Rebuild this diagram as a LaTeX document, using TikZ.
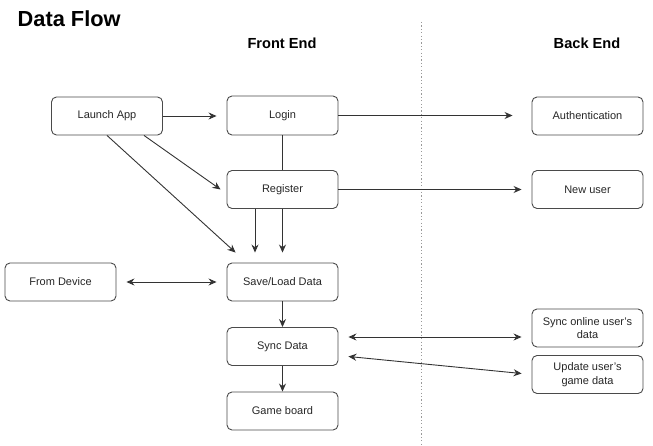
\documentclass[tikz,border=0pt]{standalone}
\usepackage{fontspec}
\setmainfont{Liberation Sans}
\usetikzlibrary{arrows.meta}
\definecolor{linec}{HTML}{333333}
\definecolor{boxc}{HTML}{4A4A4A}
\definecolor{textc}{HTML}{262626}
\tikzset{
  box/.style={draw=boxc, line width=0.9pt, rounded corners=5pt, minimum width=111pt, minimum height=38pt, inner sep=0pt, align=center, text=textc, font=\fontsize{11}{13.5}\selectfont},
  conn/.style={draw=linec, line width=0.9pt},
  arr/.style={conn, -{Stealth[length=8pt,width=7pt]}},
  darr/.style={conn, {Stealth[length=8pt,width=7pt]}-{Stealth[length=8pt,width=7pt]}},
  heading/.style={font=\bfseries\fontsize{14.6}{16}\selectfont, text=black, inner sep=0pt},
  divider/.style={draw=gray!80, line width=1pt, dash pattern=on 1.2pt off 2.2pt}
}
\begin{document}
\begin{tikzpicture}[x=1pt,y=-1pt]
\useasboundingbox (0,0) rectangle (653,446);
% title and headings
\node[anchor=west, inner sep=0pt, font=\bfseries\fontsize{21.8}{24}\selectfont] (title) at (17.5,18.5) {Data Flow};
\node[heading] (fe) at (282,43.5) {Front End};
\node[heading] (be) at (587,43.5) {Back End};
% divider
\coordinate (dtop) at (421,22);
\coordinate (dbot) at (421,446);
\draw[divider] (dtop) -- (dbot);
% nodes
\node[box] (launch) at (107,116) {Launch App};
\node[box, minimum height=39pt] (login) at (282.5,115.5) {Login};
\node[box] (register) at (282.5,189.5) {Register};
\node[box] (save) at (282.5,282) {Save/Load Data};
\node[box] (sync) at (282.5,346.5) {Sync Data};
\node[box] (game) at (282.5,411) {Game board};
\node[box] (device) at (60.5,282) {From Device};
\node[box] (auth) at (587.5,116) {Authentication};
\node[box] (newuser) at (587.5,189.5) {New user};
\node[box] (synconline) at (587.5,328) {Sync online user's\\data};
\node[box] (update) at (587.5,374.5) {Update user's\\game data};
% connectors
\draw[arr, shorten >=10pt] (launch.east) -- (launch.east -| login.west);
\draw[arr] (launch.south) -- ([xshift=9pt,yshift=10pt]save.north west);
\draw[arr] ([xshift=37pt]launch.south) -- ([xshift=-6pt]register.west);
\draw[conn] (login.south) -- (register.north);
\draw[arr, shorten >=10pt] ([xshift=-27.5pt]register.south) -- ([xshift=-27.5pt]save.north);
\draw[arr, shorten >=10pt] (register.south) -- (save.north);
\draw[arr, shorten >=19pt] (login.east) -- (login.east -| auth.west);
\draw[arr, shorten >=10pt] (register.east) -- (register.east -| newuser.west);
\draw[darr, shorten <=10pt, shorten >=10pt] (device.east) -- (save.west);
\draw[arr] (save.south) -- (sync.north);
\draw[arr] (sync.south) -- (game.north);
\draw[darr, shorten <=10pt, shorten >=10pt] ([yshift=9.5pt]sync.east) -- ([yshift=-9pt]synconline.west);
\draw[darr, shorten <=10pt, shorten >=10pt] ([yshift=-9pt]sync.east) -- (update.west);
\end{tikzpicture}
\end{document}
